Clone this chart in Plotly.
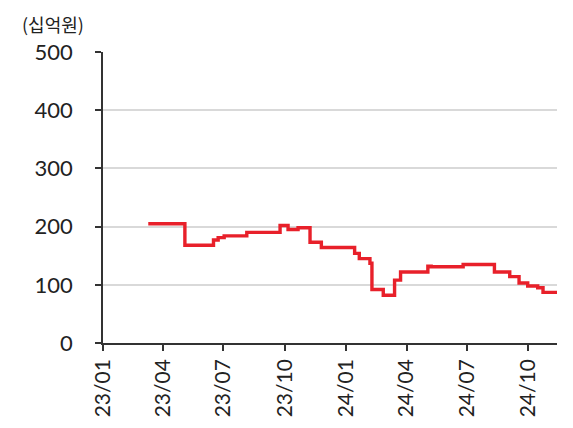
import plotly.graph_objects as go

# step dates and values (십억원)
dates = ["2023-03-10", "2023-05-04", "2023-06-16", "2023-06-23", "2023-07-02",
         "2023-08-05", "2023-09-24", "2023-10-06", "2023-10-21", "2023-11-08",
         "2023-11-25", "2024-01-14", "2024-01-21", "2024-02-06", "2024-02-09",
         "2024-02-26", "2024-03-14", "2024-03-23", "2024-05-03", "2024-05-08",
         "2024-06-25", "2024-08-11", "2024-09-03", "2024-09-17", "2024-09-30",
         "2024-10-15", "2024-10-23", "2024-11-13"]
values = [205, 168, 177, 181, 184,
          190, 202, 195, 198, 173,
          164, 154, 145, 137, 92,
          82, 108, 122, 132, 131,
          135, 122, 114, 103, 98,
          95, 87, 87]

tick_dates = ["2023-01-01", "2023-04-01", "2023-07-01", "2023-10-01",
              "2024-01-01", "2024-04-01", "2024-07-01", "2024-10-01"]
tick_labels = ["23/01", "23/04", "23/07", "23/10", "24/01", "24/04", "24/07", "24/10"]

font = "Lato"
W, H = 573, 428
L, R, T, B = 95, 24, 44, 93

fig = go.Figure()
fig.add_trace(go.Scatter(x=dates, y=values, mode="lines",
                         line=dict(color="#e8202a", width=3.4, shape="hv"),
                         showlegend=False))

fig.update_layout(
    width=W, height=H,
    margin=dict(l=L, r=R, t=T, b=B),
    plot_bgcolor="white", paper_bgcolor="white",
    font=dict(family=font, color="#222", size=20),
)
# unit label, placed by pixel position
fig.add_annotation(text="(십억원)", showarrow=False, xanchor="left", yanchor="top",
                   xref="paper", yref="paper",
                   x=(12 - L) / (W - L - R), y=(H - B - 1) / (H - T - B),
                   font=dict(family="Noto Sans CJK KR", size=18, color="#222"))

fig.update_xaxes(range=["2023-01-01", "2024-11-13"],
                 tickvals=tick_dates, ticktext=tick_labels, tickangle=-90,
                 showgrid=False, showline=True, linecolor="#333", linewidth=1.5,
                 ticks="outside", ticklen=6, tickcolor="#333", tickwidth=1.5,
                 tickfont=dict(size=21, family=font))
fig.update_yaxes(range=[0, 500], tickvals=[0, 100, 200, 300, 400, 500],
                 showgrid=True, gridcolor="#d9d9d9", gridwidth=2,
                 showline=True, linecolor="#333", linewidth=1.5,
                 ticks="outside", ticklen=6, tickcolor="#333", tickwidth=1.5,
                 ticklabelstandoff=18, zeroline=False,
                 tickfont=dict(size=22, family=font))

fig.write_html("out.html")
